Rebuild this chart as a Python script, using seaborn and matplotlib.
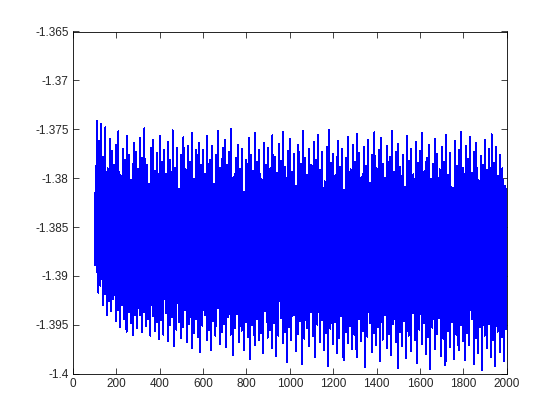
import numpy as np
import pandas as pd
import seaborn as sns
import matplotlib
matplotlib.use("Agg")
import matplotlib.pyplot as plt

# outer upper peaks, at x = 100, 110, ..., 1990
hi = [
    -1.3815, -1.3741, -1.3762, -1.3745, -1.3778, -1.3748, -1.3790, -1.3760, -1.3772, -1.3786,
    -1.3766, -1.3752, -1.3797, -1.3770, -1.3781, -1.3757, -1.3776, -1.3802, -1.3764, -1.3773,
    -1.3791, -1.3759, -1.3779, -1.3749, -1.3786, -1.3806, -1.3769, -1.3761, -1.3793, -1.3774,
    -1.3757, -1.3783, -1.3771, -1.3796, -1.3763, -1.3781, -1.3751, -1.3789, -1.3769, -1.3811,
    -1.3776, -1.3758, -1.3791, -1.3767, -1.3783, -1.3754, -1.3801, -1.3771, -1.3764, -1.3786,
    -1.3771, -1.3796, -1.3757, -1.3781, -1.3767, -1.3806, -1.3776, -1.3752, -1.3789, -1.3769,
    -1.3761, -1.3786, -1.3773, -1.3750, -1.3799, -1.3779, -1.3766, -1.3791, -1.3770, -1.3814,
    -1.3781, -1.3759, -1.3776, -1.3793, -1.3754, -1.3783, -1.3771, -1.3801, -1.3764, -1.3786,
    -1.3769, -1.3790, -1.3756, -1.3778, -1.3795, -1.3765, -1.3782, -1.3753, -1.3788, -1.3772,
    -1.3760, -1.3794, -1.3775, -1.3808, -1.3766, -1.3785, -1.3752, -1.3779, -1.3797, -1.3770,
    -1.3786, -1.3763, -1.3781, -1.3756, -1.3792, -1.3773, -1.3803, -1.3768, -1.3751, -1.3784,
    -1.3775, -1.3797, -1.3762, -1.3788, -1.3770, -1.3812, -1.3779, -1.3758, -1.3791, -1.3766,
    -1.3783, -1.3755, -1.3774, -1.3799, -1.3768, -1.3787, -1.3761, -1.3805, -1.3776, -1.3753,
    -1.3790, -1.3771, -1.3759, -1.3785, -1.3800, -1.3767, -1.3778, -1.3752, -1.3794, -1.3773,
    -1.3765, -1.3788, -1.3776, -1.3809, -1.3757, -1.3782, -1.3770, -1.3796, -1.3763, -1.3784,
    -1.3772, -1.3754, -1.3793, -1.3779, -1.3766, -1.3801, -1.3785, -1.3760, -1.3775, -1.3791,
    -1.3768, -1.3783, -1.3756, -1.3797, -1.3774, -1.3810, -1.3762, -1.3787, -1.3771, -1.3753,
    -1.3789, -1.3767, -1.3780, -1.3758, -1.3795, -1.3773, -1.3764, -1.3802, -1.3777, -1.3786,
    -1.3761, -1.3792, -1.3770, -1.3755, -1.3784, -1.3768, -1.3798, -1.3776, -1.3790, -1.3808,
]

# inner lower points, at x = 102.5, 112.5, ..., 1992.5
lo_in = [
    -1.3889, -1.3896, -1.3899, -1.3903, -1.3906, -1.3909, -1.3911, -1.3914, -1.3912, -1.3917,
    -1.3915, -1.3920, -1.3918, -1.3922, -1.3919, -1.3924, -1.3921, -1.3926, -1.3923, -1.3927,
    -1.3925, -1.3929, -1.3923, -1.3928, -1.3926, -1.3931, -1.3924, -1.3930, -1.3927, -1.3932,
    -1.3926, -1.3931, -1.3924, -1.3929, -1.3933, -1.3927, -1.3925, -1.3930, -1.3928, -1.3932,
    -1.3929, -1.3924, -1.3931, -1.3927, -1.3933, -1.3926, -1.3930, -1.3925, -1.3932, -1.3928,
    -1.3925, -1.3930, -1.3927, -1.3932, -1.3924, -1.3929, -1.3922, -1.3931, -1.3926, -1.3928,
    -1.3931, -1.3926, -1.3929, -1.3933, -1.3927, -1.3923, -1.3930, -1.3925, -1.3932, -1.3927,
    -1.3928, -1.3933, -1.3926, -1.3930, -1.3924, -1.3929, -1.3927, -1.3931, -1.3922, -1.3928,
    -1.3926, -1.3931, -1.3925, -1.3932, -1.3928, -1.3923, -1.3929, -1.3927, -1.3933, -1.3926,
    -1.3929, -1.3922, -1.3931, -1.3927, -1.3924, -1.3933, -1.3928, -1.3925, -1.3930, -1.3921,
    -1.3928, -1.3932, -1.3925, -1.3929, -1.3923, -1.3931, -1.3927, -1.3933, -1.3926, -1.3930,
    -1.3924, -1.3931, -1.3928, -1.3922, -1.3932, -1.3927, -1.3929, -1.3925, -1.3931, -1.3928,
    -1.3932, -1.3923, -1.3929, -1.3926, -1.3933, -1.3928, -1.3924, -1.3931, -1.3927, -1.3930,
    -1.3925, -1.3932, -1.3929, -1.3922, -1.3930, -1.3927, -1.3932, -1.3924, -1.3929, -1.3933,
    -1.3926, -1.3930, -1.3924, -1.3932, -1.3928, -1.3931, -1.3921, -1.3929, -1.3933, -1.3926,
    -1.3930, -1.3924, -1.3932, -1.3928, -1.3933, -1.3925, -1.3931, -1.3927, -1.3923, -1.3932,
    -1.3928, -1.3933, -1.3926, -1.3930, -1.3924, -1.3932, -1.3928, -1.3931, -1.3925, -1.3929,
    -1.3932, -1.3927, -1.3930, -1.3923, -1.3933, -1.3928, -1.3931, -1.3925, -1.3933, -1.3928,
    -1.3930, -1.3924, -1.3932, -1.3929, -1.3933, -1.3927, -1.3931, -1.3928, -1.3932, -1.3925,
]

# inner upper points, at x = 105, 115, ..., 1995
hi_in = [
    -1.3806, -1.3809, -1.3804, -1.3811, -1.3808, -1.3812, -1.3807, -1.3813, -1.3810, -1.3814,
    -1.3811, -1.3815, -1.3812, -1.3817, -1.3813, -1.3816, -1.3814, -1.3819, -1.3815, -1.3818,
    -1.3817, -1.3813, -1.3820, -1.3816, -1.3819, -1.3814, -1.3821, -1.3817, -1.3815, -1.3820,
    -1.3816, -1.3821, -1.3814, -1.3818, -1.3822, -1.3815, -1.3819, -1.3817, -1.3823, -1.3816,
    -1.3820, -1.3815, -1.3818, -1.3822, -1.3816, -1.3819, -1.3814, -1.3821, -1.3817, -1.3823,
    -1.3818, -1.3822, -1.3815, -1.3820, -1.3817, -1.3824, -1.3816, -1.3819, -1.3821, -1.3814,
    -1.3819, -1.3816, -1.3823, -1.3818, -1.3815, -1.3821, -1.3817, -1.3822, -1.3816, -1.3820,
    -1.3815, -1.3820, -1.3818, -1.3823, -1.3816, -1.3819, -1.3821, -1.3814, -1.3822, -1.3817,
    -1.3821, -1.3817, -1.3815, -1.3820, -1.3823, -1.3818, -1.3816, -1.3822, -1.3819, -1.3815,
    -1.3818, -1.3823, -1.3816, -1.3820, -1.3814, -1.3821, -1.3819, -1.3817, -1.3824, -1.3816,
    -1.3820, -1.3815, -1.3822, -1.3818, -1.3816, -1.3823, -1.3817, -1.3821, -1.3815, -1.3819,
    -1.3816, -1.3821, -1.3819, -1.3814, -1.3822, -1.3818, -1.3820, -1.3817, -1.3823, -1.3815,
    -1.3822, -1.3818, -1.3816, -1.3821, -1.3819, -1.3815, -1.3823, -1.3817, -1.3820, -1.3816,
    -1.3817, -1.3820, -1.3823, -1.3816, -1.3818, -1.3822, -1.3815, -1.3821, -1.3819, -1.3814,
    -1.3821, -1.3816, -1.3819, -1.3823, -1.3817, -1.3820, -1.3815, -1.3822, -1.3818, -1.3816,
    -1.3819, -1.3823, -1.3815, -1.3818, -1.3821, -1.3816, -1.3820, -1.3824, -1.3817, -1.3819,
    -1.3815, -1.3819, -1.3822, -1.3817, -1.3820, -1.3816, -1.3823, -1.3818, -1.3821, -1.3815,
    -1.3820, -1.3817, -1.3814, -1.3822, -1.3819, -1.3816, -1.3821, -1.3818, -1.3823, -1.3817,
    -1.3818, -1.3821, -1.3816, -1.3820, -1.3815, -1.3822, -1.3817, -1.3819, -1.3814, -1.3811,
]

# outer lower troughs, at x = 107.5, 117.5, ..., 1997.5
lo = [
    -1.3887, -1.3917, -1.3910, -1.3930, -1.3918, -1.3940, -1.3926, -1.3936, -1.3924, -1.3946,
    -1.3935, -1.3952, -1.3930, -1.3944, -1.3957, -1.3937, -1.3948, -1.3960, -1.3940, -1.3953,
    -1.3940, -1.3957, -1.3937, -1.3951, -1.3944, -1.3961, -1.3941, -1.3956, -1.3947, -1.3964,
    -1.3945, -1.3960, -1.3938, -1.3967, -1.3950, -1.3942, -1.3972, -1.3955, -1.3947, -1.3963,
    -1.3952, -1.3935, -1.3968, -1.3949, -1.3974, -1.3958, -1.3944, -1.3962, -1.3978, -1.3951,
    -1.3940, -1.3966, -1.3955, -1.3976, -1.3946, -1.3961, -1.3933, -1.3970, -1.3957, -1.3949,
    -1.3973, -1.3942, -1.3960, -1.3981, -1.3953, -1.3939, -1.3968, -1.3956, -1.3976, -1.3947,
    -1.3962, -1.3985, -1.3950, -1.3971, -1.3944, -1.3966, -1.3958, -1.3979, -1.3936, -1.3963,
    -1.3955, -1.3974, -1.3948, -1.3982, -1.3961, -1.3943, -1.3969, -1.3957, -1.3988, -1.3952,
    -1.3966, -1.3940, -1.3977, -1.3959, -1.3946, -1.3990, -1.3964, -1.3953, -1.3972, -1.3937,
    -1.3961, -1.3983, -1.3950, -1.3968, -1.3945, -1.3976, -1.3958, -1.3992, -1.3954, -1.3970,
    -1.3947, -1.3979, -1.3963, -1.3941, -1.3986, -1.3957, -1.3969, -1.3951, -1.3975, -1.3960,
    -1.3983, -1.3944, -1.3967, -1.3956, -1.3993, -1.3962, -1.3948, -1.3978, -1.3958, -1.3971,
    -1.3952, -1.3987, -1.3965, -1.3940, -1.3974, -1.3959, -1.3981, -1.3949, -1.3968, -1.3994,
    -1.3957, -1.3972, -1.3946, -1.3984, -1.3961, -1.3977, -1.3938, -1.3966, -1.3989, -1.3955,
    -1.3970, -1.3948, -1.3980, -1.3962, -1.3995, -1.3953, -1.3975, -1.3959, -1.3943, -1.3982,
    -1.3964, -1.3991, -1.3956, -1.3973, -1.3947, -1.3985, -1.3960, -1.3976, -1.3950, -1.3967,
    -1.3986, -1.3958, -1.3971, -1.3944, -1.3990, -1.3963, -1.3979, -1.3952, -1.3996, -1.3961,
    -1.3974, -1.3949, -1.3983, -1.3965, -1.3992, -1.3957, -1.3978, -1.3962, -1.3987, -1.3954,
]

x0 = np.arange(100, 2000, 10)

# one sample sequence: hi, lo_in, hi_in, lo in every step of 10
x = np.column_stack([x0, x0 + 2.5, x0 + 5, x0 + 7.5]).ravel()
y = np.column_stack([hi, lo_in, hi_in, lo]).ravel()
df = pd.DataFrame({"x": x, "y": y})

sns.set_style("ticks")
plt.rcParams["font.family"] = ["Liberation Sans", "DejaVu Sans"]

fig = plt.figure(figsize=(5.6, 4.2), dpi=100)
ax = fig.add_axes([0.13, 0.11, 0.775, 0.815])
sns.lineplot(data=df, x="x", y="y", color="#0000ff", linewidth=0.72,
             estimator=None, sort=False, antialiased=False, ax=ax)

ax.set_xlim(0, 2000)
ax.set_ylim(-1.4, -1.365)
ax.set_xticks(np.arange(0, 2001, 200))
ax.set_yticks([-1.4, -1.395, -1.39, -1.385, -1.38, -1.375, -1.37, -1.365])
ax.set_yticklabels(["-1.4", "-1.395", "-1.39", "-1.385", "-1.38", "-1.375", "-1.37", "-1.365"])
ax.set_xlabel("")
ax.set_ylabel("")
ax.tick_params(direction="in", length=4, width=0.6, labelsize=8.5,
               top=True, right=True, pad=3)
for s in ax.spines.values():
    s.set_visible(True)
    s.set_linewidth(0.6)
    s.set_color("black")

fig.savefig("out.png", dpi=100)
